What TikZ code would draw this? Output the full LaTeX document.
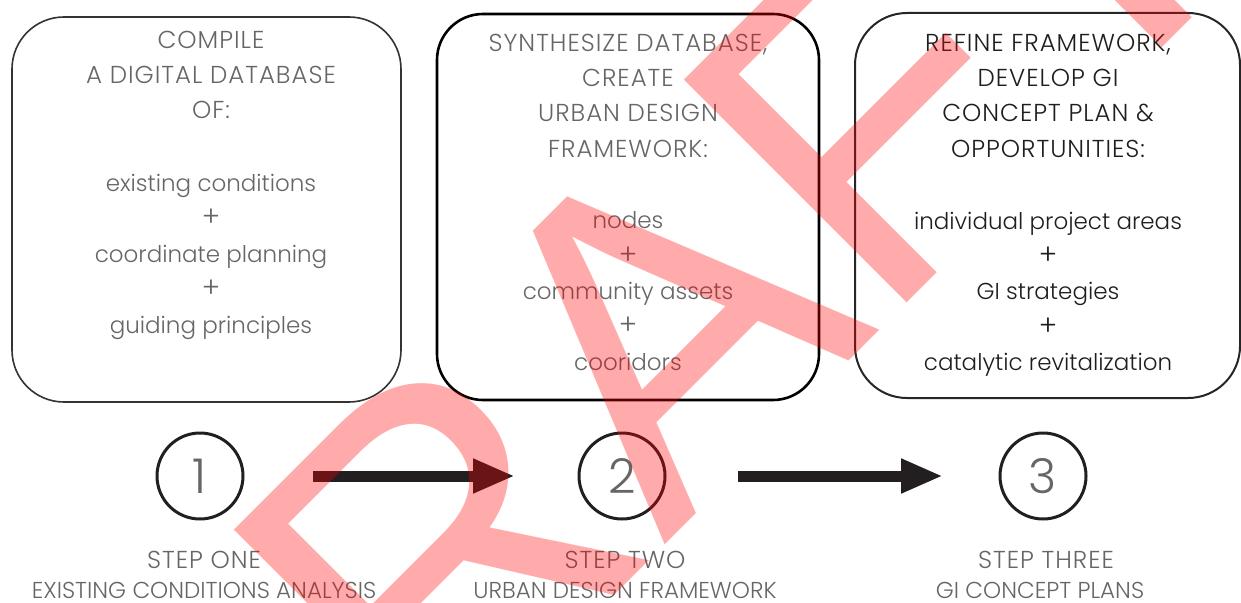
\documentclass[tikz,border=0pt]{standalone}
\usepackage{fontspec}
\setmainfont{Poppins Light}
\newfontfamily\markfont{Liberation Sans}
\usetikzlibrary{arrows.meta}
\definecolor{ink}{HTML}{231F20}
\definecolor{softgray}{HTML}{666666}
\definecolor{darktext}{HTML}{1E1E1E}
\newcommand{\capsfont}{\fontsize{24.5}{35.2}\selectfont\addfontfeature{LetterSpace=4.0}}
\newcommand{\plus}{{\fontsize{28}{35.4}\selectfont +}}
\begin{document}
\begin{tikzpicture}[x=1pt,y=-1pt,
  panel/.style={draw=#1, rounded corners=52pt, inner sep=0pt},
  heading/.style={anchor=north, align=center, inner sep=0pt, font=\capsfont},
  items/.style={anchor=north, align=center, inner sep=0pt,
    font=\fontsize{23}{35.4}\selectfont},
  stepcircle/.style={circle, draw=ink, line width=3pt, minimum size=86pt,
    inner sep=0pt, text=softgray, font=\fontsize{48}{48}\selectfont},
  steptitle/.style={anchor=north, inner sep=0pt, text=softgray, font=\capsfont},
  stepname/.style={anchor=north, inner sep=0pt, text=softgray,
    font=\fontsize{23}{31}\selectfont},
  flow/.style={ink, line width=11pt, -{Triangle[length=42pt,width=32pt]}}]
\useasboundingbox (0,0) rectangle (1241,602);
\clip (0,0) rectangle (1241,602);

% the three framing panels
\node[panel=black!80, line width=1.6pt, minimum width=389pt, minimum height=385pt]
  (panelA) at (206.5,209.5) {};
\node[panel=black, line width=2.6pt, minimum width=382pt, minimum height=386pt, rounded corners=46pt]
  (panelB) at (628,207) {};
\node[panel=black!85, line width=2pt, minimum width=385pt, minimum height=385pt]
  (panelC) at (1047.5,205.5) {};

% panel headings
\node[heading, text=softgray] (headA) at (211,31)
  {COMPILE\\A DIGITAL DATABASE\\OF:};
\node[heading, text=softgray] (headB) at (628,34)
  {SYNTHESIZE DATABASE,\\CREATE\\URBAN DESIGN\\FRAMEWORK:};
\node[heading, text=darktext] (headC) at (1048,34)
  {REFINE FRAMEWORK,\\DEVELOP GI\\CONCEPT PLAN \&\\OPPORTUNITIES:};

% panel item lists
\node[items, text=softgray] (itemsA) at (211,174)
  {existing conditions\\\plus\\coordinate planning\\\plus\\guiding principles};
\node[items, text=softgray] (itemsB) at (628,211.5)
  {nodes\\\plus\\community assets\\\plus\\cooridors};
\node[items, text=darktext] (itemsC) at (1048,211.5)
  {individual project areas\\\plus\\GI strategies\\\plus\\catalytic revitalization};

% numbered steps
\node[stepcircle] (stepA) at (200,476) {1};
\node[stepcircle] (stepB) at (622,476) {2};
\node[stepcircle] (stepC) at (1043,476) {3};

\draw[flow, shorten <=68.5pt, shorten >=62.5pt] (stepA) -- (stepB);
\draw[flow, shorten <=71.5pt, shorten >=55.5pt] (stepB) -- (stepC);

\node[steptitle] (titleA) at (204,551) {STEP ONE};
\node[steptitle] (titleB) at (625,551) {STEP TWO};
\node[steptitle] (titleC) at (1046,551) {STEP THREE};
\node[stepname] (nameA) at (204,582) {EXISTING CONDITIONS ANALYSIS};
\node[stepname] (nameB) at (625,582) {URBAN DESIGN FRAMEWORK};
\node[stepname] (nameC) at (1040,582) {GI CONCEPT PLANS};

% draft stamp across the sheet
\node[rotate=45, anchor=base west, inner sep=0pt, text=red, text opacity=0.33,
  font=\markfont\fontsize{458}{458}\selectfont] (stamp) at (197,1013) {DRAFT};
\end{tikzpicture}
\end{document}
